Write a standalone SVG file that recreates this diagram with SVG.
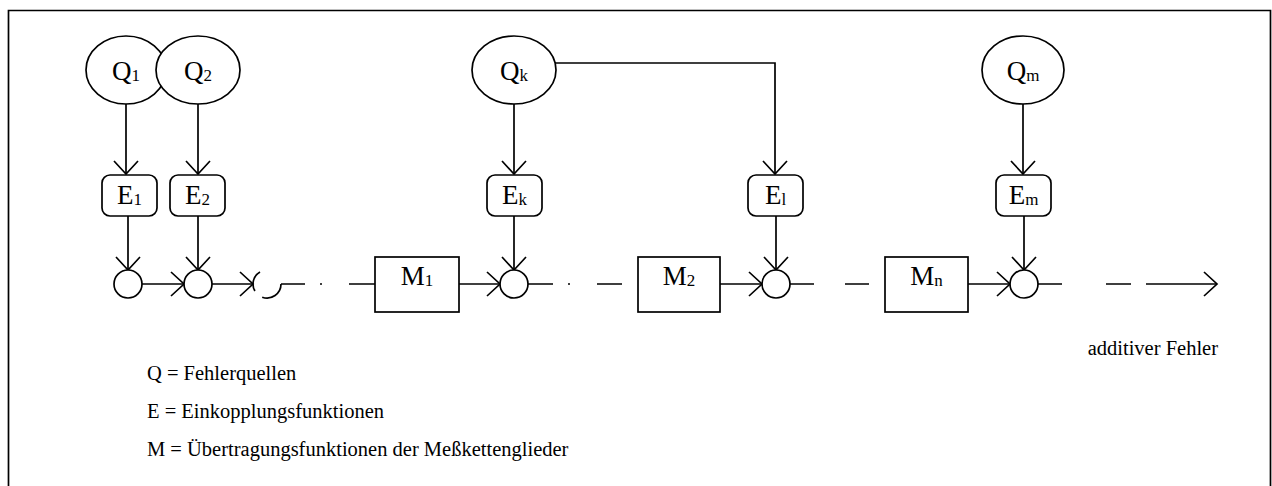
<svg xmlns="http://www.w3.org/2000/svg" width="1272" height="486" viewBox="0 0 1272 486">
<style>
.ln{fill:none;stroke:#000;stroke-width:1.7}
.nd{fill:#fff;stroke:#000;stroke-width:1.7}
.lb{font-family:"Liberation Serif","Times New Roman",serif;font-size:27px;fill:#000}
.sb{font-size:17px}
.tx{font-family:"Liberation Serif","Times New Roman",serif;font-size:20.5px;fill:#000}
</style>
<defs>
<marker id="ar" markerUnits="userSpaceOnUse" markerWidth="30" markerHeight="30" viewBox="-15 -15 30 30" refX="0" refY="0" orient="auto">
<path d="M-13,-12 L0,0 L-13,12" fill="none" stroke="#000" stroke-width="1.7"/>
</marker>
</defs>
<rect width="1272" height="486" fill="#fff"/>
<path class="ln" d="M8.5,486 V10.5 H1270.5 V486" stroke-width="2"/>

<g id="connectors">
<path class="ln" d="M126,104 V174" marker-end="url(#ar)"/>
<path class="ln" d="M198,104 V174" marker-end="url(#ar)"/>
<path class="ln" d="M514,104 V174" marker-end="url(#ar)"/>
<path class="ln" d="M555,63 H775 V174" marker-end="url(#ar)"/>
<path class="ln" d="M1023,104 V174" marker-end="url(#ar)"/>
<path class="ln" d="M128,216 V270" marker-end="url(#ar)"/>
<path class="ln" d="M198,216 V270" marker-end="url(#ar)"/>
<path class="ln" d="M514,216 V270" marker-end="url(#ar)"/>
<path class="ln" d="M776,216 V270" marker-end="url(#ar)"/>
<path class="ln" d="M1024,216 V270" marker-end="url(#ar)"/>
<path class="ln" d="M142,284 H184" marker-end="url(#ar)"/>
<path class="ln" d="M212,284 H253" marker-end="url(#ar)"/>
<path class="ln" d="M281,284 H305 M320,284 H322 M349,284 H375"/>
<path class="ln" d="M459,284 H500" marker-end="url(#ar)"/>
<path class="ln" d="M528,284 H553 M568,284 H570 M597,284 H622"/>
<path class="ln" d="M720,284 H762" marker-end="url(#ar)"/>
<path class="ln" d="M790,284 H814 M845,284 H869"/>
<path class="ln" d="M968,284 H1010" marker-end="url(#ar)"/>
<path class="ln" d="M1038,284 H1062 M1106,284 H1131"/>
<path class="ln" d="M1146,284 H1217" marker-end="url(#ar)"/>
</g>

<g id="Q1"><ellipse class="nd" cx="126" cy="70" rx="40" ry="34"/><text class="lb" x="126" y="80" text-anchor="middle">Q<tspan class="sb" dy="1">1</tspan></text></g>
<g id="Q2"><ellipse class="nd" cx="198" cy="70" rx="42" ry="34"/><text class="lb" x="198" y="80" text-anchor="middle">Q<tspan class="sb" dy="1">2</tspan></text></g>
<g id="Qk"><ellipse class="nd" cx="514" cy="70" rx="42" ry="34"/><text class="lb" x="514" y="80" text-anchor="middle">Q<tspan class="sb" dy="1">k</tspan></text></g>
<g id="Qm"><ellipse class="nd" cx="1023" cy="70" rx="41" ry="34"/><text class="lb" x="1023" y="80" text-anchor="middle">Q<tspan class="sb" dy="1">m</tspan></text></g>

<g id="E1"><rect class="nd" x="102" y="175" width="55" height="41" rx="8"/><text class="lb" x="129.5" y="204" text-anchor="middle">E<tspan class="sb" dy="1">1</tspan></text></g>
<g id="E2"><rect class="nd" x="170" y="175" width="55" height="41" rx="8"/><text class="lb" x="197.5" y="204" text-anchor="middle">E<tspan class="sb" dy="1">2</tspan></text></g>
<g id="Ek"><rect class="nd" x="487" y="175" width="55" height="41" rx="8"/><text class="lb" x="514.5" y="204" text-anchor="middle">E<tspan class="sb" dy="1">k</tspan></text></g>
<g id="El"><rect class="nd" x="748" y="175" width="55" height="41" rx="8"/><text class="lb" x="775.5" y="204" text-anchor="middle">E<tspan class="sb" dy="1">l</tspan></text></g>
<g id="Em"><rect class="nd" x="996" y="175" width="55" height="41" rx="8"/><text class="lb" x="1023.5" y="204" text-anchor="middle">E<tspan class="sb" dy="1">m</tspan></text></g>

<g id="S1"><circle class="nd" cx="128" cy="284" r="14"/></g>
<g id="S2"><circle class="nd" cx="198" cy="284" r="14"/></g>
<g id="S3"><path class="ln" d="M281,284 A14,14 0 0 1 262.2,297.2 M254.9,291 A14,14 0 0 1 260,271.9"/></g>
<g id="Sk"><circle class="nd" cx="514" cy="284" r="14"/></g>
<g id="Sl"><circle class="nd" cx="776" cy="284" r="14"/></g>
<g id="Sm"><circle class="nd" cx="1024" cy="284" r="14"/></g>

<g id="M1"><rect class="nd" x="375" y="257" width="84" height="55"/><text class="lb" x="417" y="285" text-anchor="middle">M<tspan class="sb" dy="1">1</tspan></text></g>
<g id="M2"><rect class="nd" x="638" y="257" width="82" height="55"/><text class="lb" x="679" y="285" text-anchor="middle">M<tspan class="sb" dy="1">2</tspan></text></g>
<g id="Mn"><rect class="nd" x="885" y="257" width="83" height="55"/><text class="lb" x="926.5" y="285" text-anchor="middle">M<tspan class="sb" dy="1">n</tspan></text></g>

<g id="legend">
<text class="tx" x="1218" y="355" text-anchor="end" font-size="22">additiver Fehler</text>
<text class="tx" x="147" y="380">Q = Fehlerquellen</text>
<text class="tx" x="147" y="418">E = Einkopplungsfunktionen</text>
<text class="tx" x="147" y="456">M = Übertragungsfunktionen der Meßkettenglieder</text>
</g>
</svg>
